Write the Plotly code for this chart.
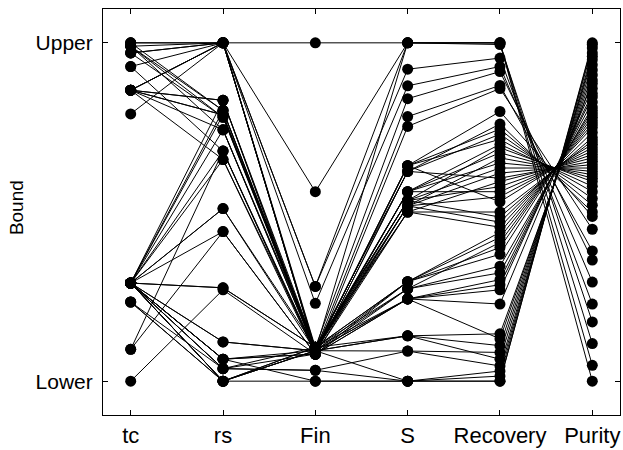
import plotly.graph_objects as go

axes_names = ["tc", "rs", "Fin", "S", "Recovery", "Purity"]
y_tick_labels = ["Lower", "Upper"]

tc = [0.99, 0.97, 0.86, 0.29, 1.00, 0.93, 0.86, 0.99, 0.29, 0.79,
      0.86, 0.97, 0.29, 0.86, 1.00, 0.99, 0.86, 0.29, 0.86, 0.29,
      0.094, 0.29, 0.97, 0.29, 0.93, 0.29, 0.86, 0.094, 0.29, 1.00,
      0.29, 0.99, 0.29, 0.86, 0.234, 0.29, 0.00, 0.29, 0.234, 0.29,
      0.29, 0.86, 0.29, 0.29, 0.29, 0.29, 0.29, 0.29, 0.29, 0.29,
      0.234, 0.29]
rs = [1.00, 1.00, 1.00, 0.80, 1.00, 1.00, 0.83, 0.743, 0.68, 1.00,
      0.787, 0.78, 0.655, 1.00, 1.00, 0.80, 0.743, 0.83, 1.00, 0.51,
      0.68, 0.442, 1.00, 0.787, 0.68, 0.743, 0.655, 0.442, 0.276, 0.80,
      0.116, 0.78, 0.065, 0.787, 0.037, 0.51, 0.27, 0.00, 0.00, 0.037,
      0.276, 0.83, 0.116, 0.065, 0.00, 0.037, 0.00, 0.065, 0.037, 0.00,
      0.00, 0.065]
fin = [1.00, 0.56, 0.28, 0.09, 0.28, 0.23, 0.10, 0.09, 0.08, 0.09,
       0.10, 0.09, 0.08, 0.09, 0.095, 0.10, 0.09, 0.08, 0.09, 0.10,
       0.09, 0.08, 0.10, 0.09, 0.085, 0.10, 0.09, 0.08, 0.10, 0.09,
       0.09, 0.10, 0.08, 0.09, 0.10, 0.09, 0.08, 0.10, 0.09, 0.08,
       0.10, 0.09, 0.09, 0.08, 0.10, 0.032, 0.09, 0.09, 0.032, 0.09,
       0.00, 0.00]
s = [1.00, 1.00, 1.00, 1.00, 0.922, 0.873, 0.835, 0.782, 0.753, 0.637,
     0.62, 0.637, 0.62, 0.637, 0.56, 0.534, 0.56, 0.518, 0.56, 0.534,
     0.518, 0.62, 0.50, 0.534, 0.56, 0.518, 0.637, 0.50, 0.534, 0.518,
     0.50, 0.294, 0.294, 0.273, 0.294, 0.294, 0.273, 0.273, 0.243, 0.243,
     0.243, 0.243, 0.134, 0.243, 0.134, 0.089, 0.134, 0.089, 0.00, 0.00,
     0.00, 0.00]
recovery = [1.00, 1.00, 1.00, 0.995, 0.955, 0.930, 0.915, 0.874, 0.865, 0.797,
            0.760, 0.745, 0.730, 0.715, 0.700, 0.690, 0.675, 0.660, 0.645, 0.630,
            0.615, 0.600, 0.590, 0.575, 0.560, 0.545, 0.530, 0.500, 0.485, 0.470,
            0.455, 0.440, 0.425, 0.410, 0.395, 0.375, 0.340, 0.320, 0.300, 0.285,
            0.270, 0.228, 0.140, 0.125, 0.105, 0.085, 0.065, 0.045, 0.030, 0.015,
            0.000, 0.000]
purity = [0.000, 0.047, 0.111, 0.175, 0.228, 0.293, 0.358, 0.385, 0.449, 0.487,
          0.500, 0.520, 0.540, 0.560, 0.576, 0.590, 0.600, 0.610, 0.620, 0.630,
          0.640, 0.650, 0.660, 0.670, 0.680, 0.690, 0.700, 0.710, 0.720, 0.735,
          0.750, 0.760, 0.770, 0.780, 0.790, 0.800, 0.810, 0.825, 0.840, 0.850,
          0.865, 0.880, 0.890, 0.905, 0.920, 0.935, 0.950, 0.960, 0.970, 0.985,
          1.000, 0.995]

columns = [tc, rs, fin, s, recovery, purity]
xpos = list(range(1, len(axes_names) + 1))

fig = go.Figure()
for i in range(len(tc)):
    fig.add_trace(go.Scatter(
        x=xpos, y=[col[i] for col in columns], mode="lines+markers",
        line=dict(color="black", width=1),
        marker=dict(color="black", size=11),
        showlegend=False, hoverinfo="skip"))

font_family = "Liberation Sans, Arial, Helvetica, sans-serif"
fig.update_layout(
    width=623, height=450,
    margin=dict(l=103, r=2, t=9, b=33),
    plot_bgcolor="white", paper_bgcolor="white",
    font=dict(family=font_family, color="black", size=22),
)
fig.update_xaxes(
    range=[0.7, 6.3], tickvals=xpos, ticktext=axes_names,
    ticks="inside", ticklen=5, tickcolor="black", mirror="ticks",
    showline=True, linecolor="black", linewidth=1, showgrid=False,
    zeroline=False, tickfont=dict(size=22), ticklabelstandoff=1,
)
fig.update_yaxes(
    range=[-0.1, 1.1], tickvals=[0, 1], ticktext=y_tick_labels,
    ticks="inside", ticklen=5, tickcolor="black", mirror="ticks",
    showline=True, linecolor="black", linewidth=1, showgrid=False,
    zeroline=False, tickfont=dict(size=21), ticklabelstandoff=5,
)
fig.add_annotation(
    text="Bound", xref="paper", yref="paper", x=-0.166, y=0.51,
    xanchor="center", yanchor="middle", textangle=-90, showarrow=False,
    font=dict(size=19, family=font_family, color="black"))

fig.write_html("out.html")
